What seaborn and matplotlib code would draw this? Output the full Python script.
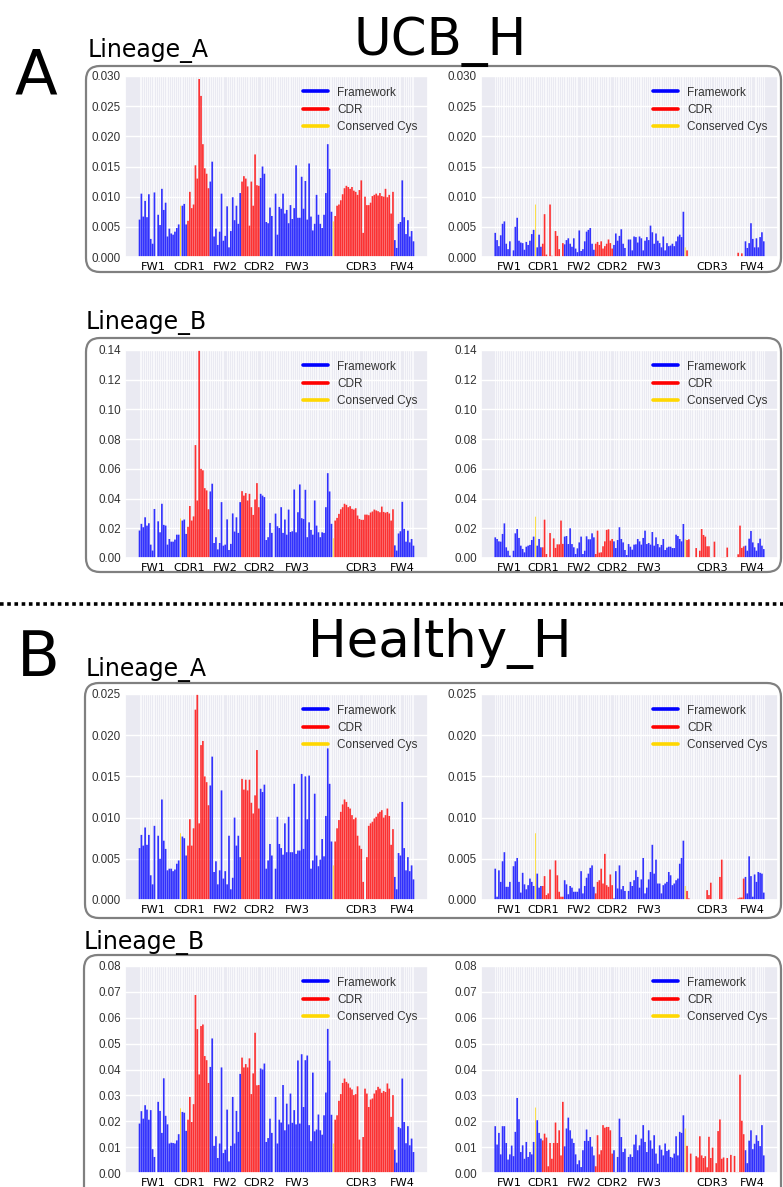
import numpy as np
import pandas as pd
import matplotlib
matplotlib.use("Agg")
import matplotlib.pyplot as plt
import seaborn as sns
from matplotlib.lines import Line2D
from matplotlib.patches import FancyBboxPatch
from matplotlib.transforms import IdentityTransform
from matplotlib.colors import to_rgb

# ---------------- data ----------------
region_names = ["FW1", "CDR1", "FW2", "CDR2", "FW3", "CDR3", "FW4"]
region_sizes = [26, 12, 17, 10, 39, 33, 11]
cys_positions = [22, 104]
region_label_pos = [7.5, 26.5, 46.0, 64.0, 84.5, 119.0, 141.0]
legend_labels = ["Framework", "CDR", "Conserved Cys"]

ucb_lineage_a_left = [
    0.0062, 0.0105, 0.0067, 0.0093, 0.0066, 0.0104, 0.0030, 0.0022, 0.0107, 0.0,
    0.0070, 0.0053, 0.0113, 0.0078, 0.0090, 0.0034, 0.0047, 0.0039, 0.0037, 0.0042,
    0.0048, 0.0054, 0.0085, 0.0085, 0.0088, 0.0054,
    0.0060, 0.0108, 0.0081, 0.0087, 0.0152, 0.0130, 0.0295, 0.0267, 0.0187, 0.0147, 0.0138, 0.0114,
    0.0125, 0.0158, 0.0034, 0.0047, 0.0020, 0.0042, 0.0105, 0.0027, 0.0035, 0.0084,
    0.0016, 0.0043, 0.0099, 0.0061, 0.0085, 0.0055, 0.0106,
    0.0125, 0.0134, 0.0130, 0.0117, 0.0052, 0.0125, 0.0085, 0.0170, 0.0119, 0.0118,
    0.0131, 0.0150, 0.0138, 0.0058, 0.0056, 0.0082, 0.0068, 0.0, 0.0105, 0.0037,
    0.0083, 0.0080, 0.0105, 0.0072, 0.0078, 0.0056, 0.0086, 0.0063, 0.0081, 0.0152,
    0.0065, 0.0065, 0.0133, 0.0080, 0.0126, 0.0062, 0.0155, 0.0067, 0.0044, 0.0055,
    0.0103, 0.0070, 0.0055, 0.0048, 0.0070, 0.0106, 0.0187, 0.0146, 0.0075,
    0.0059, 0.0068, 0.0085, 0.0087, 0.0094, 0.0104, 0.0114, 0.0118, 0.0116, 0.0113,
    0.0116, 0.0110, 0.0108, 0.0103, 0.0111, 0.0127, 0.0040, 0.0100, 0.0086, 0.0086,
    0.0090, 0.0101, 0.0103, 0.0105, 0.0102, 0.0106, 0.0101, 0.0100, 0.0113, 0.0099,
    0.0103, 0.0072, 0.0108,
    0.0028, 0.0015, 0.0055, 0.0058, 0.0127, 0.0066, 0.0038, 0.0061, 0.0034, 0.0043, 0.0026,
]

ucb_lineage_a_right = [
    0.0040, 0.0028, 0.0018, 0.0036, 0.0055, 0.0059, 0.0022, 0.0013, 0.0026, 0.0,
    0.0011, 0.0050, 0.0065, 0.0027, 0.0024, 0.0023, 0.0012, 0.0025, 0.0020, 0.0027,
    0.0038, 0.0045, 0.0087, 0.0016, 0.0037, 0.0017,
    0.0022, 0.0071, 0.0004, 0.0, 0.0087, 0.0002, 0.0, 0.0043, 0.0035, 0.0013, 0.0, 0.0023,
    0.0021, 0.0028, 0.0031, 0.0022, 0.0017, 0.0031, 0.0014, 0.0008, 0.0044, 0.0010,
    0.0013, 0.0026, 0.0042, 0.0045, 0.0048, 0.0022, 0.0012,
    0.0022, 0.0025, 0.0020, 0.0026, 0.0014, 0.0018, 0.0022, 0.0029, 0.0023, 0.0014,
    0.0020, 0.0039, 0.0027, 0.0035, 0.0046, 0.0022, 0.0015, 0.0, 0.0029, 0.0029,
    0.0011, 0.0034, 0.0033, 0.0024, 0.0034, 0.0031, 0.0011, 0.0027, 0.0033, 0.0028,
    0.0052, 0.0041, 0.0022, 0.0039, 0.0027, 0.0023, 0.0016, 0.0034, 0.0011, 0.0023,
    0.0018, 0.0019, 0.0022, 0.0018, 0.0026, 0.0034, 0.0037, 0.0033, 0.0075,
    0.0016, 0.0011, 0.0, 0.0, 0.0, 0.0, 0.0, 0.0, 0.0, 0.0,
    0.0, 0.0, 0.0, 0.0, 0.0, 0.0, 0.0, 0.0, 0.0, 0.0,
    0.0, 0.0, 0.0, 0.0, 0.0, 0.0, 0.0, 0.0, 0.0, 0.0007,
    0.0, 0.0006, 0.0,
    0.0026, 0.0015, 0.0023, 0.0056, 0.0030, 0.0016, 0.0031, 0.0016, 0.0033, 0.0041, 0.0026,
]

ucb_lineage_b_left = [
    0.0185, 0.0230, 0.0207, 0.0274, 0.0218, 0.0234, 0.0090, 0.0050, 0.0330, 0.0,
    0.0247, 0.0173, 0.0365, 0.0223, 0.0218, 0.0090, 0.0128, 0.0110, 0.0110, 0.0124,
    0.0157, 0.0157, 0.0266, 0.0252, 0.0259, 0.0162,
    0.0210, 0.0350, 0.0252, 0.0280, 0.0760, 0.0387, 0.1400, 0.0600, 0.0590, 0.0470, 0.0455, 0.0328,
    0.0448, 0.0500, 0.0101, 0.0140, 0.0058, 0.0101, 0.0376, 0.0083, 0.0090, 0.0260,
    0.0054, 0.0095, 0.0300, 0.0178, 0.0274, 0.0169, 0.0376,
    0.0450, 0.0420, 0.0437, 0.0387, 0.0432, 0.0342, 0.0290, 0.0394, 0.0504, 0.0342,
    0.0432, 0.0420, 0.0410, 0.0121, 0.0140, 0.0236, 0.0169, 0.0, 0.0299, 0.0214,
    0.0202, 0.0342, 0.0169, 0.0259, 0.0157, 0.0326, 0.0175, 0.0180, 0.0461, 0.0173,
    0.0308, 0.0495, 0.0268, 0.0263, 0.0459, 0.0140, 0.0240, 0.0189, 0.0157, 0.0387,
    0.0218, 0.0173, 0.0140, 0.0173, 0.0169, 0.0342, 0.0571, 0.0448, 0.0230,
    0.0133, 0.0252, 0.0270, 0.0297, 0.0328, 0.0342, 0.0365, 0.0358, 0.0342, 0.0349,
    0.0331, 0.0326, 0.0335, 0.0286, 0.0263, 0.0257, 0.0257, 0.0292, 0.0292, 0.0288,
    0.0306, 0.0313, 0.0326, 0.0320, 0.0315, 0.0308, 0.0346, 0.0310, 0.0305, 0.0310,
    0.0300, 0.0252, 0.0328,
    0.0085, 0.0050, 0.0165, 0.0180, 0.0378, 0.0196, 0.0110, 0.0184, 0.0105, 0.0128, 0.0083,
]

ucb_lineage_b_right = [
    0.0139, 0.0128, 0.0112, 0.0110, 0.0162, 0.0233, 0.0072, 0.0049, 0.0016, 0.0,
    0.0049, 0.0166, 0.0195, 0.0135, 0.0083, 0.0061, 0.0038, 0.0076, 0.0083, 0.0088,
    0.0121, 0.0144, 0.0278, 0.0083, 0.0128, 0.0072,
    0.0072, 0.0258, 0.0027, 0.0, 0.0168, 0.0, 0.0132, 0.0068, 0.0092, 0.0092, 0.0252, 0.0095,
    0.0144, 0.0148, 0.0094, 0.0200, 0.0094, 0.0072, 0.0027, 0.0065, 0.0105, 0.0144,
    0.0027, 0.0049, 0.0146, 0.0126, 0.0126, 0.0166, 0.0139,
    0.0027, 0.0184, 0.0036, 0.0038, 0.0079, 0.0112, 0.0189, 0.0193, 0.0117, 0.0128,
    0.0112, 0.0067, 0.0121, 0.0207, 0.0128, 0.0105, 0.0054, 0.0020, 0.0094, 0.0076,
    0.0056, 0.0090, 0.0092, 0.0128, 0.0112, 0.0090, 0.0135, 0.0184, 0.0094, 0.0101,
    0.0090, 0.0175, 0.0083, 0.0139, 0.0094, 0.0072, 0.0088, 0.0128, 0.0054, 0.0070,
    0.0076, 0.0076, 0.0067, 0.0067, 0.0157, 0.0148, 0.0128, 0.0112, 0.0229,
    0.0126, 0.0121, 0.0126, 0.0, 0.0, 0.0, 0.0067, 0.0, 0.0049, 0.0195,
    0.0155, 0.0144, 0.0079, 0.0079, 0.0005, 0.0, 0.0110, 0.0, 0.0, 0.0,
    0.0005, 0.0005, 0.0005, 0.0070, 0.0, 0.0, 0.0, 0.0, 0.0005, 0.0025,
    0.0218, 0.0068, 0.0078,
    0.0083, 0.0049, 0.0130, 0.0182, 0.0105, 0.0072, 0.0049, 0.0100, 0.0130, 0.0083, 0.0060,
]

healthy_lineage_a_left = [
    0.0063, 0.0079, 0.0066, 0.0088, 0.0067, 0.0079, 0.0030, 0.0019, 0.0090, 0.0,
    0.0078, 0.0050, 0.0122, 0.0072, 0.0062, 0.0036, 0.0038, 0.0038, 0.0035, 0.0037,
    0.0044, 0.0048, 0.0081, 0.0077, 0.0075, 0.0054,
    0.0066, 0.0098, 0.0066, 0.0087, 0.0231, 0.0250, 0.0093, 0.0188, 0.0193, 0.0150, 0.0143, 0.0115,
    0.0139, 0.0174, 0.0034, 0.0047, 0.0019, 0.0036, 0.0133, 0.0026, 0.0035, 0.0019,
    0.0078, 0.0013, 0.0027, 0.0100, 0.0066, 0.0078, 0.0052,
    0.0147, 0.0134, 0.0146, 0.0133, 0.0146, 0.0118, 0.0105, 0.0127, 0.0182, 0.0111,
    0.0135, 0.0131, 0.0140, 0.0038, 0.0048, 0.0068, 0.0054, 0.0, 0.0038, 0.0101,
    0.0068, 0.0063, 0.0055, 0.0093, 0.0058, 0.0101, 0.0058, 0.0058, 0.0141, 0.0056,
    0.0060, 0.0060, 0.0153, 0.0062, 0.0150, 0.0098, 0.0151, 0.0038, 0.0048, 0.0129,
    0.0054, 0.0041, 0.0049, 0.0074, 0.0053, 0.0102, 0.0184, 0.0141, 0.0071,
    0.0042, 0.0071, 0.0087, 0.0097, 0.0107, 0.0116, 0.0122, 0.0119, 0.0113, 0.0111,
    0.0103, 0.0098, 0.0100, 0.0078, 0.0066, 0.0062, 0.0022, 0.0, 0.0052, 0.0090,
    0.0093, 0.0095, 0.0099, 0.0101, 0.0105, 0.0107, 0.0109, 0.0100, 0.0103, 0.0111,
    0.0102, 0.0067, 0.0086,
    0.0028, 0.0013, 0.0057, 0.0054, 0.0119, 0.0063, 0.0036, 0.0052, 0.0035, 0.0042, 0.0025,
]

healthy_lineage_a_right = [
    0.0038, 0.0004, 0.0036, 0.0022, 0.0047, 0.0058, 0.0016, 0.0016, 0.0022, 0.0,
    0.0041, 0.0047, 0.0051, 0.0022, 0.0009, 0.0033, 0.0019, 0.0013, 0.0018, 0.0026,
    0.0022, 0.0017, 0.0081, 0.0032, 0.0015, 0.0017,
    0.0017, 0.0029, 0.0006, 0.0008, 0.0037, 0.0, 0.0, 0.0048, 0.0030, 0.0010, 0.0004, 0.0004,
    0.0024, 0.0019, 0.0007, 0.0017, 0.0015, 0.0010, 0.0010, 0.0010, 0.0014, 0.0035,
    0.0008, 0.0017, 0.0027, 0.0032, 0.0039, 0.0042, 0.0016,
    0.0008, 0.0022, 0.0024, 0.0038, 0.0020, 0.0056, 0.0018, 0.0016, 0.0031, 0.0018,
    0.0002, 0.0035, 0.0014, 0.0042, 0.0013, 0.0017, 0.0011, 0.0, 0.0011, 0.0022,
    0.0017, 0.0024, 0.0036, 0.0028, 0.0015, 0.0025, 0.0051, 0.0008, 0.0015, 0.0025,
    0.0034, 0.0067, 0.0032, 0.0049, 0.0020, 0.0020, 0.0008, 0.0018, 0.0020, 0.0022,
    0.0034, 0.0030, 0.0018, 0.0020, 0.0024, 0.0026, 0.0044, 0.0051, 0.0072,
    0.0017, 0.0011, 0.0002, 0.0, 0.0, 0.0, 0.0, 0.0, 0.0, 0.0,
    0.0, 0.0, 0.0012, 0.0006, 0.0021, 0.0, 0.0, 0.0, 0.0, 0.0028,
    0.0049, 0.0, 0.0, 0.0, 0.0, 0.0, 0.0, 0.0, 0.0, 0.0002,
    0.0003, 0.0003, 0.0026,
    0.0028, 0.0008, 0.0053, 0.0029, 0.0004, 0.0031, 0.0022, 0.0034, 0.0033, 0.0032, 0.0009,
]

healthy_lineage_b_left = [
    0.0191, 0.0239, 0.0210, 0.0262, 0.0245, 0.0206, 0.0243, 0.0092, 0.0062, 0.0,
    0.0275, 0.0240, 0.0155, 0.0366, 0.0221, 0.0188, 0.0114, 0.0117, 0.0116, 0.0114,
    0.0126, 0.0150, 0.0250, 0.0236, 0.0233, 0.0163,
    0.0206, 0.0294, 0.0197, 0.0266, 0.0688, 0.0556, 0.0381, 0.0568, 0.0574, 0.0452, 0.0436, 0.0348,
    0.0410, 0.0520, 0.0105, 0.0142, 0.0058, 0.0114, 0.0408, 0.0077, 0.0090, 0.0245,
    0.0045, 0.0105, 0.0294, 0.0114, 0.0240, 0.0159, 0.0383,
    0.0446, 0.0408, 0.0421, 0.0408, 0.0443, 0.0305, 0.0385, 0.0542, 0.0339, 0.0340,
    0.0404, 0.0400, 0.0423, 0.0120, 0.0135, 0.0210, 0.0155, 0.0, 0.0294, 0.0114,
    0.0206, 0.0195, 0.0340, 0.0165, 0.0268, 0.0188, 0.0307, 0.0194, 0.0243, 0.0188,
    0.0435, 0.0191, 0.0459, 0.0255, 0.0436, 0.0454, 0.0185, 0.0123, 0.0388, 0.0161,
    0.0168, 0.0226, 0.0165, 0.0148, 0.0223, 0.0311, 0.0557, 0.0434, 0.0225,
    0.0114, 0.0206, 0.0223, 0.0279, 0.0305, 0.0348, 0.0365, 0.0352, 0.0346, 0.0330,
    0.0323, 0.0301, 0.0305, 0.0335, 0.0129, 0.0, 0.0139, 0.0326, 0.0307, 0.0255,
    0.0284, 0.0288, 0.0307, 0.0320, 0.0333, 0.0326, 0.0310, 0.0317, 0.0313, 0.0346,
    0.0326, 0.0217, 0.0301,
    0.0090, 0.0040, 0.0178, 0.0173, 0.0365, 0.0197, 0.0115, 0.0181, 0.0107, 0.0133, 0.0081,
]

healthy_lineage_b_right = [
    0.0181, 0.0110, 0.0155, 0.0072, 0.0181, 0.0181, 0.0116, 0.0052, 0.0072, 0.0106,
    0.0065, 0.0159, 0.0290, 0.0208, 0.0081, 0.0107, 0.0055, 0.0120, 0.0062, 0.0081,
    0.0072, 0.0120, 0.0253, 0.0204, 0.0155, 0.0133,
    0.0126, 0.0152, 0.0137, 0.0026, 0.0116, 0.0055, 0.0116, 0.0195, 0.0116, 0.0165, 0.0068, 0.0275,
    0.0103, 0.0172, 0.0214, 0.0165, 0.0133, 0.0116, 0.0072, 0.0034, 0.0049, 0.0023,
    0.0088, 0.0124, 0.0168, 0.0124, 0.0139, 0.0102, 0.0068,
    0.0026, 0.0146, 0.0072, 0.0088, 0.0185, 0.0175, 0.0178, 0.0178, 0.0165, 0.0075,
    0.0088, 0.0004, 0.0062, 0.0210, 0.0139, 0.0081, 0.0094, 0.0, 0.0062, 0.0072,
    0.0062, 0.0110, 0.0148, 0.0088, 0.0107, 0.0133, 0.0185, 0.0120, 0.0081, 0.0165,
    0.0126, 0.0094, 0.0146, 0.0075, 0.0036, 0.0107, 0.0090, 0.0068, 0.0114, 0.0085,
    0.0090, 0.0062, 0.0059, 0.0075, 0.0142, 0.0068, 0.0159, 0.0155, 0.0223,
    0.0172, 0.0105, 0.0002, 0.0075, 0.0, 0.0, 0.0065, 0.0060, 0.0142, 0.0068,
    0.0058, 0.0065, 0.0022, 0.0140, 0.0058, 0.0098, 0.0, 0.0038, 0.0162, 0.0207,
    0.0055, 0.0060, 0.0, 0.0058, 0.0, 0.0070, 0.0, 0.0066, 0.0003, 0.0003,
    0.0380, 0.0202, 0.0150,
    0.0088, 0.0038, 0.0125, 0.0165, 0.0092, 0.0113, 0.0146, 0.0124, 0.0104, 0.0185, 0.0068,
]

# ---------------- style ----------------
sns.set_theme(style="darkgrid")
plt.rcParams["font.family"] = ["Liberation Sans", "DejaVu Sans"]
plt.rcParams["axes.axisbelow"] = True

W, H = 783, 1187
fig = plt.figure(figsize=(W / 100, H / 100), dpi=100)


def fx(x):
    return x / W


def fy(y):
    return 1 - y / H


n_pos = sum(region_sizes)
kinds = []
for name, size in zip(region_names, region_sizes):
    kinds += ["CDR" if name.startswith("CDR") else "Framework"] * size
for c in cys_positions:
    kinds[c] = "Conserved Cys"

palette = {"Framework": "blue", "CDR": "red", "Conserved Cys": "gold"}


def draw_panel(values, name, ymax, nticks, rect):
    if len(values) != n_pos:
        raise ValueError(f"{name}: {len(values)} values, expected {n_pos}")
    x0, y0, x1, y1 = rect
    ax = fig.add_axes([fx(x0), fy(y1), (x1 - x0) / W, (y1 - y0) / H])
    df = pd.DataFrame({"pos": np.arange(n_pos), "val": values, "kind": kinds})
    sns.barplot(data=df, x="pos", y="val", hue="kind", hue_order=legend_labels,
                palette=palette, native_scale=True, dodge=False, width=0.9,
                saturation=1, alpha=0.8, errorbar=None, legend=False,
                edgecolor="none", linewidth=0, ax=ax)
    gold = np.array(to_rgb("gold"))
    for p in ax.patches:
        p.set_edgecolor("none")
        p.set_linewidth(0)
        p.set_snap(False)
        if np.allclose(p.get_facecolor()[:3], gold):
            cx = p.get_x() + p.get_width() / 2
            p.set_width(0.5)
            p.set_x(cx - 0.25)
    ax.set_xlim(-7.8, n_pos - 1 + 7.8)
    ax.set_ylim(0, ymax)
    ax.set_yticks(np.linspace(0, ymax, nticks + 1))
    ax.set_xticks(region_label_pos)
    ax.set_xticklabels(region_names, fontfamily="DejaVu Sans", fontsize=8.2, color="black")
    ax.set_xticks(np.arange(n_pos), minor=True)
    ax.grid(False, axis="x", which="major")
    ax.grid(True, axis="x", which="minor", color="white", lw=0.5)
    ax.grid(True, axis="y", which="major", color="white", lw=1.0)
    ax.set_axisbelow(True)
    ax.tick_params(which="both", length=0)
    ax.tick_params(axis="y", labelsize=8.4, labelcolor="#333333", pad=3)
    ax.tick_params(axis="x", pad=3.5)
    ax.set_xlabel("")
    ax.set_ylabel("")
    handles = [Line2D([0], [0], color=palette[k], lw=2.6) for k in legend_labels]
    leg = ax.legend(handles, legend_labels, loc="upper right", frameon=False,
                    fontsize=8.5, handlelength=2.1, labelspacing=0.45,
                    handletextpad=0.8, borderaxespad=0.5)
    for t in leg.get_texts():
        t.set_color("#333333")
    return ax


L = (125, 428)
R = (481, 778)
panels = [
    (ucb_lineage_a_left, "ucb_a_left", 0.030, 6, (L[0], 76, L[1], 257)),
    (ucb_lineage_a_right, "ucb_a_right", 0.030, 6, (R[0], 76, R[1], 257)),
    (ucb_lineage_b_left, "ucb_b_left", 0.14, 7, (L[0], 350, L[1], 558)),
    (ucb_lineage_b_right, "ucb_b_right", 0.14, 7, (R[0], 350, R[1], 558)),
    (healthy_lineage_a_left, "healthy_a_left", 0.025, 5, (L[0], 694, L[1], 900)),
    (healthy_lineage_a_right, "healthy_a_right", 0.025, 5, (R[0], 694, R[1], 900)),
    (healthy_lineage_b_left, "healthy_b_left", 0.08, 8, (L[0], 966, L[1], 1173)),
    (healthy_lineage_b_right, "healthy_b_right", 0.08, 8, (R[0], 966, R[1], 1173)),
]
for vals, name, ymax, nt, rect in panels:
    draw_panel(vals, name, ymax, nt, rect)

# rounded frames (pixel coordinates, origin bottom-left)
for (x0, y0, x1, y1) in [(86, 66, 781, 272), (86, 338, 781, 572),
                         (85, 683, 781, 918), (84, 955, 781, 1205)]:
    box = FancyBboxPatch((x0, H - y1), x1 - x0, y1 - y0,
                         boxstyle="round,pad=0,rounding_size=14",
                         fill=False, ec="#808080", lw=1.6)
    box.set_transform(IdentityTransform())
    box.set_zorder(0)
    fig.add_artist(box)

# dotted separator
sep = Line2D([0, 1], [fy(604), fy(604)], transform=fig.transFigure, color="black",
             lw=2.6, linestyle=(0, (1, 1)), dash_capstyle="butt")
fig.add_artist(sep)

tfam = "DejaVu Sans"
tcol = "black"
fig.text(fx(15), fy(95), "A", fontsize=45, family=tfam, color=tcol, ha="left", va="baseline")
fig.text(fx(440), fy(55), "UCB_H", fontsize=37, family=tfam, color=tcol, ha="center", va="baseline")
fig.text(fx(88), fy(57), "Lineage_A", fontsize=17, family=tfam, color=tcol, ha="left", va="baseline")
fig.text(fx(86), fy(329), "Lineage_B", fontsize=17, family=tfam, color=tcol, ha="left", va="baseline")
fig.text(fx(17), fy(676), "B", fontsize=45, family=tfam, color=tcol, ha="left", va="baseline")
fig.text(fx(440), fy(657), "Healthy_H", fontsize=37, family=tfam, color=tcol, ha="center", va="baseline")
fig.text(fx(86), fy(676), "Lineage_A", fontsize=17, family=tfam, color=tcol, ha="left", va="baseline")
fig.text(fx(84), fy(949), "Lineage_B", fontsize=17, family=tfam, color=tcol, ha="left", va="baseline")

fig.savefig("out.png", dpi=100)
